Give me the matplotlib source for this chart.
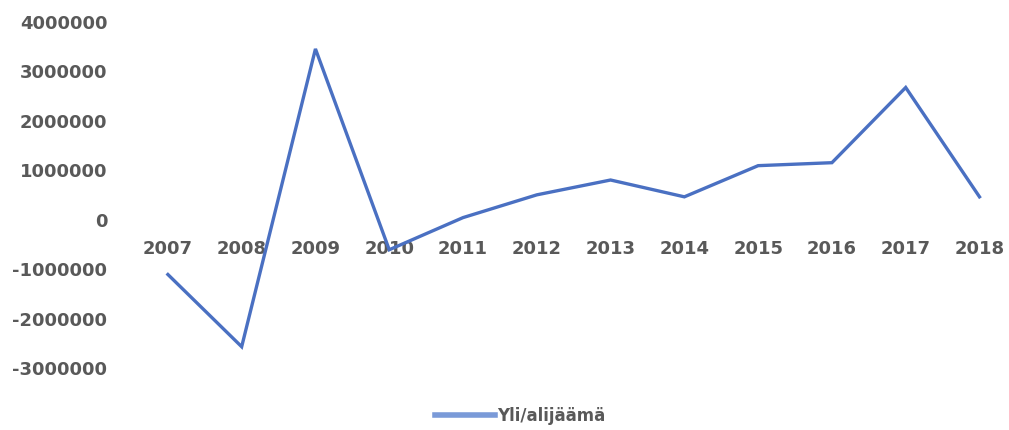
import matplotlib
matplotlib.use("Agg")
import matplotlib.pyplot as plt

years = ["2007", "2008", "2009", "2010", "2011", "2012", "2013", "2014",
         "2015", "2016", "2017", "2018"]
values = [-1110000, -2570000, 3450000, -610000, 40000, 500000, 800000,
          460000, 1090000, 1150000, 2670000, 460000]
yticks = [-3000000, -2000000, -1000000, 0, 1000000, 2000000, 3000000, 4000000]
series_name = "Yli/alijäämä"

text_color = "#595959"
line_color = "#4a70c2"

plt.rcParams['font.family'] = ['DejaVu Sans']

fig = plt.figure(figsize=(10.09, 4.30), dpi=100)
W, H = 1009, 430
ax = fig.add_axes([131 / W, (H - 368) / H, 1 - 131 / W, (368 - 21.7) / H])

x = list(range(len(years)))
ax.plot(x, values, color=line_color, linewidth=2.4, label=series_name,
        solid_joinstyle='miter')

ax.set_xlim(-0.5, 11.4)
ax.set_ylim(-3000000, 4000000)
ax.set_yticks(yticks)
ax.set_yticklabels([str(v) for v in yticks])
ax.set_xticks(x)
ax.set_xticklabels(years)

for s in ax.spines.values():
    s.set_color('none')
ax.spines['bottom'].set_position(('data', 0))

ax.tick_params(axis='y', length=0, pad=17, labelsize=13, labelcolor=text_color)
ax.tick_params(axis='x', length=0, pad=15, labelsize=13, labelcolor=text_color)
for lbl in ax.get_xticklabels() + ax.get_yticklabels():
    lbl.set_fontweight('bold')

leg = fig.legend(loc='center', bbox_to_anchor=(520 / W, (H - 416) / H),
                 frameon=False, handlelength=3.6, handletextpad=0.1,
                 prop={'size': 12, 'weight': 'bold'})
for t in leg.get_texts():
    t.set_color(text_color)
for h in leg.get_lines():
    h.set_linewidth(4)
    h.set_color('#7a9ad8')

fig.savefig("out.png", dpi=100)
